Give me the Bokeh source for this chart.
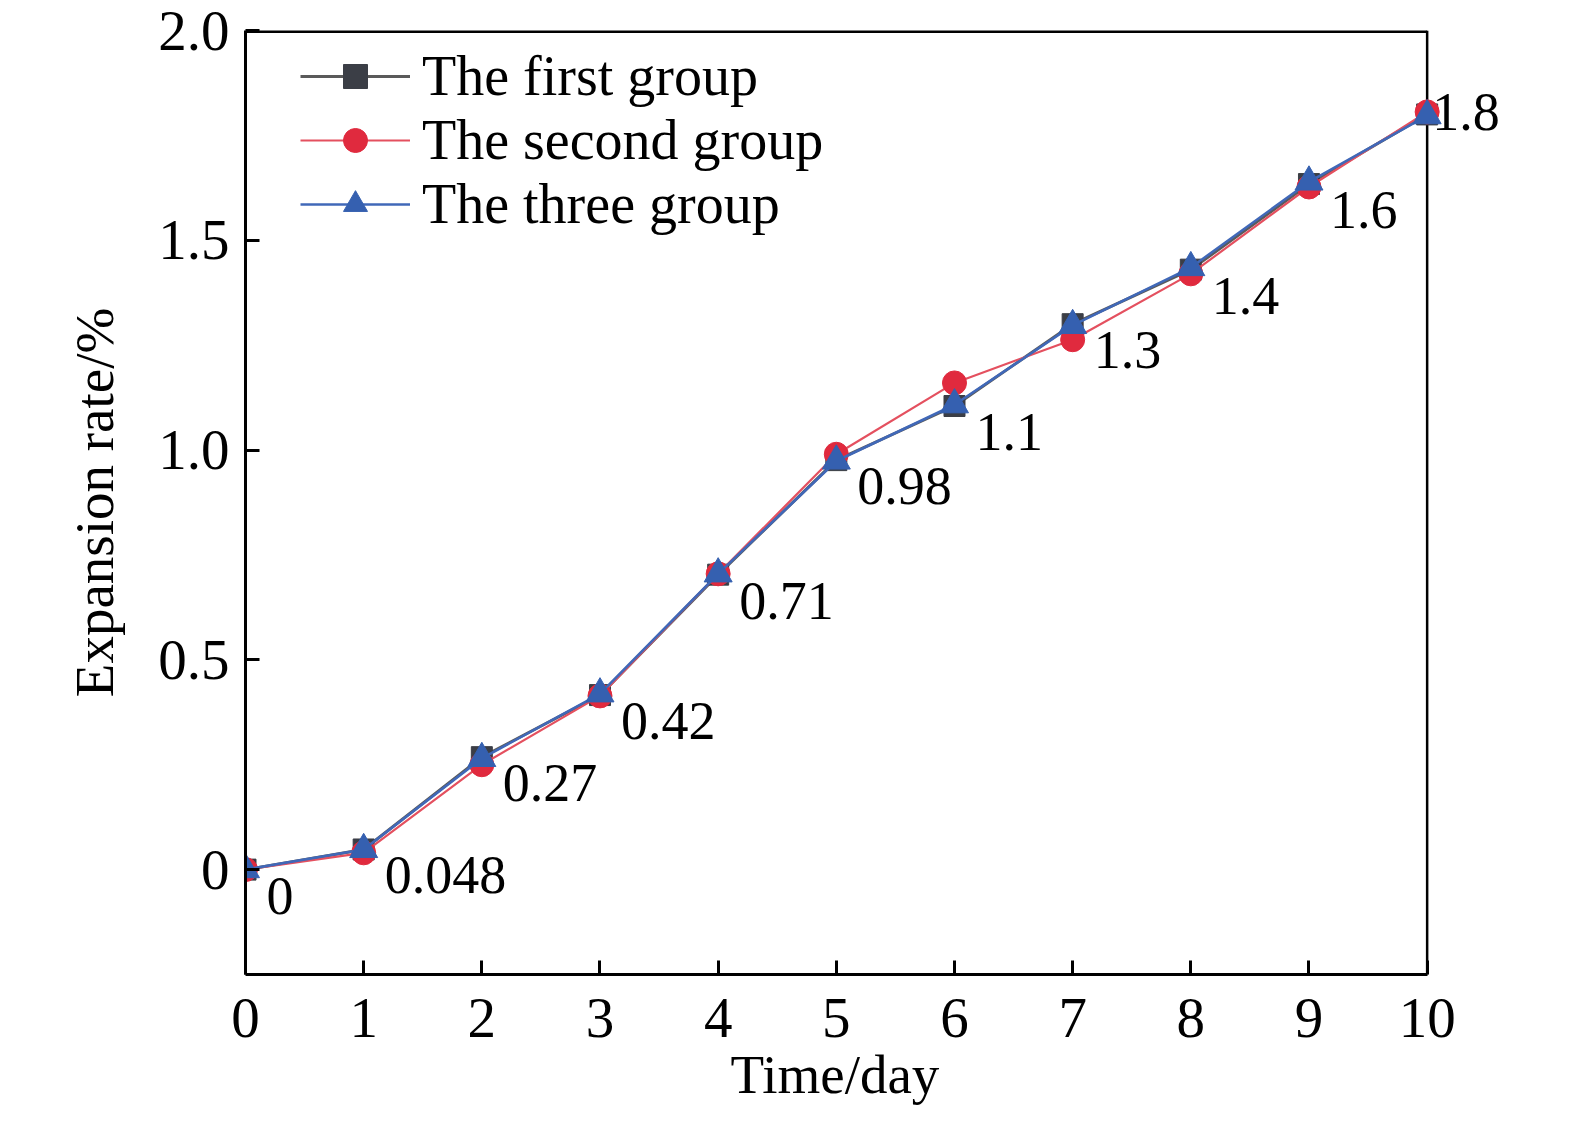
from bokeh.plotting import figure
from bokeh.models import ColumnDataSource, Label, Legend, LegendItem, FixedTicker, Range1d, Title
from bokeh.embed import file_html
from bokeh.resources import INLINE

days = [0, 1, 2, 3, 4, 5, 6, 7, 8, 9, 10]
group1 = [0, 0.048, 0.268, 0.416, 0.703, 0.976, 1.105, 1.30, 1.43, 1.634, 1.80]
group2 = [0, 0.040, 0.250, 0.414, 0.705, 0.990, 1.160, 1.263, 1.42, 1.627, 1.806]
group3 = [0, 0.048, 0.265, 0.419, 0.705, 0.974, 1.108, 1.297, 1.435, 1.639, 1.797]
point_labels = ["0", "0.048", "0.27", "0.42", "0.71", "0.98", "1.1", "1.3", "1.4", "1.6", "1.8"]
y_ticks = [0, 0.5, 1.0, 1.5, 2.0]
y_tick_labels = ["0", "0.5", "1.0", "1.5", "2.0"]
x_ticks = list(range(0, 11))
x_title = "Time/day"
y_title = "Expansion rate/%"

FONT = "Liberation Serif"
X_MIN, X_MAX = x_ticks[0], x_ticks[-1]
Y_MIN, Y_MAX = -0.25, y_ticks[-1]

# the frame is extended a little past x=10 so that the last point label is not clipped;
# the visible box is drawn by hand at x=10
p = figure(width=1559, height=1114, output_backend="svg", toolbar_location=None,
           x_range=Range1d(X_MIN, X_MAX + 0.68), y_range=Range1d(Y_MIN, Y_MAX),
           min_border_left=245, min_border_right=52, min_border_top=30, min_border_bottom=140)
p.grid.visible = False
p.background_fill_color = "white"
p.border_fill_color = "white"
p.outline_line_color = None

for ax in (p.xaxis[0], p.yaxis[0]):
    ax.axis_line_width = 3
    ax.axis_line_color = "black"
    ax.major_tick_in = 14
    ax.major_tick_out = 0
    ax.major_tick_line_width = 3
    ax.minor_tick_line_color = None
    ax.major_label_text_font = FONT
    ax.major_label_text_font_size = "57px"
    ax.major_label_text_color = "black"
    ax.axis_label_text_font = FONT
    ax.axis_label_text_font_size = "55px"
    ax.axis_label_text_font_style = "normal"
    ax.axis_label_text_color = "black"

p.xaxis.bounds = (X_MIN, X_MAX)
p.xaxis.ticker = FixedTicker(ticks=x_ticks)
p.yaxis.ticker = FixedTicker(ticks=y_ticks)
p.yaxis.major_label_overrides = {t: l for t, l in zip(y_ticks, y_tick_labels)}
p.yaxis.axis_label = y_title
p.xaxis.major_label_standoff = 24
p.yaxis.major_label_standoff = 16
p.yaxis.axis_label_standoff = 30

xt = Title(text=x_title, align="left", offset=485, standoff=4,
           text_font=FONT, text_font_size="55px", text_font_style="normal", text_color="black")
p.add_layout(xt, "below")

# top and right sides of the box
p.segment(x0=[X_MIN], y0=[Y_MAX], x1=[X_MAX], y1=[Y_MAX], line_color="black", line_width=5)
p.segment(x0=[X_MAX], y0=[Y_MIN], x1=[X_MAX], y1=[Y_MAX], line_color="black", line_width=2.5)

src = ColumnDataSource(dict(x=days, g1=group1, g2=group2, g3=group3))

l1 = p.line("x", "g1", source=src, line_color="#5a5a5a", line_width=3)
m1 = p.scatter("x", "g1", source=src, marker="square", size=21, fill_color="#3b3e46", line_color="#3b3e46")
l2 = p.line("x", "g2", source=src, line_color="#e4505f", line_width=2.2)
m2 = p.scatter("x", "g2", source=src, marker="circle", size=24, fill_color="#e02a3e", line_color="#e02a3e")
l3 = p.line("x", "g3", source=src, line_color="#4068b8", line_width=2.6)
m3 = p.scatter("x", "g3", source=src, marker="triangle", size=28, fill_color="#3560b0", line_color="#3560b0")

last = len(days) - 1
for i, (xv, yv, txt) in enumerate(zip(days, group1, point_labels)):
    if i == last:
        lab = Label(x=xv, y=yv, text=txt, x_offset=5, y_offset=2,
                    text_baseline="middle", text_align="left",
                    text_font=FONT, text_font_size="54px", text_color="black")
    else:
        lab = Label(x=xv, y=yv, text=txt, x_offset=21, y_offset=-8,
                    text_baseline="top", text_align="left",
                    text_font=FONT, text_font_size="54px", text_color="black")
    p.add_layout(lab)

legend = Legend(items=[
    LegendItem(label="The first group", renderers=[l1, m1]),
    LegendItem(label="The second group", renderers=[l2, m2]),
    LegendItem(label="The three group", renderers=[l3, m3]),
], location=(55, 738))
legend.margin = 0
legend.padding = 0
legend.spacing = -6
legend.glyph_width = 110
legend.glyph_height = 60
legend.label_height = 60
legend.label_standoff = 12
legend.label_text_font = FONT
legend.label_text_font_size = "56px"
legend.label_text_color = "black"
legend.border_line_color = None
legend.background_fill_alpha = 0
p.add_layout(legend)

open("out.html", "w").write(file_html(p, INLINE))
